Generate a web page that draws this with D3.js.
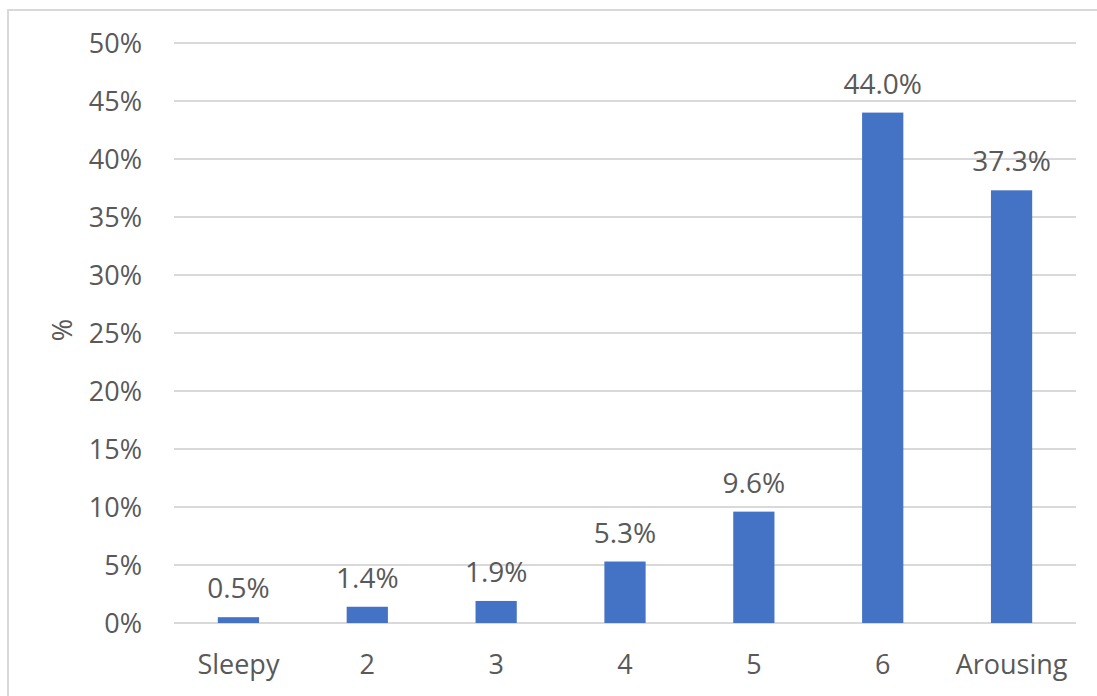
<!DOCTYPE html>
<html>
<head>
<meta charset="utf-8">
<script src="https://cdn.jsdelivr.net/npm/d3@7"></script>
<style>
  html, body { margin: 0; padding: 0; background: #fff; }
  svg { display: block; }
  text { font-family: "Open Sans", "Noto Sans", sans-serif; fill: #595959; }
</style>
</head>
<body>
<svg id="chart" width="1097" height="696"></svg>
<script>
// Share of responses on the sleepy–arousing scale
const categories = ["Sleepy", "2", "3", "4", "5", "6", "Arousing"];
const values = [0.5, 1.4, 1.9, 5.3, 9.6, 44.0, 37.3];
const yTicks = [0, 5, 10, 15, 20, 25, 30, 35, 40, 45, 50];

const svg = d3.select("#chart");
const W = 1097, H = 696;
const plot = { left: 174, right: 1076, top: 43, bottom: 623 };

// Chart area frame
svg.append("rect")
  .attr("x", 8).attr("y", 10)
  .attr("width", W).attr("height", H)
  .attr("fill", "none")
  .attr("stroke", "#d9d9d9")
  .attr("stroke-width", 2);

const x = d3.scaleBand()
  .domain(categories)
  .range([plot.left, plot.right])
  .paddingInner(0.68)
  .paddingOuter(0.34);

const y = d3.scaleLinear()
  .domain([0, 50])
  .range([plot.bottom, plot.top]);

// Horizontal gridlines
svg.append("g")
  .selectAll("line")
  .data(yTicks)
  .join("line")
  .attr("x1", plot.left).attr("x2", plot.right)
  .attr("y1", d => y(d)).attr("y2", d => y(d))
  .attr("stroke", "#d9d9d9")
  .attr("stroke-width", 2);

// Y axis tick labels
const yAxis = d3.axisLeft(y)
  .tickValues(yTicks)
  .tickFormat(d => d + "%")
  .tickSize(0)
  .tickPadding(0);
svg.append("g")
  .attr("transform", `translate(${plot.left - 32},0)`)
  .call(yAxis)
  .call(g => g.select(".domain").remove())
  .call(g => g.selectAll("text")
    .attr("font-size", 27)
    .attr("font-family", null)
    .attr("fill", "#595959")
    .attr("dy", "0.36em"));

// Bars
svg.append("g")
  .selectAll("rect")
  .data(values)
  .join("rect")
  .attr("x", (d, i) => x(categories[i]))
  .attr("width", x.bandwidth())
  .attr("y", d => y(d))
  .attr("height", d => y(0) - y(d))
  .attr("fill", "#4472c4");

// Value labels above bars
svg.append("g")
  .selectAll("text")
  .data(values)
  .join("text")
  .attr("x", (d, i) => x(categories[i]) + x.bandwidth() / 2)
  .attr("y", d => y(d) - 19)
  .attr("text-anchor", "middle")
  .attr("font-size", 28)
  .text(d => d.toFixed(1) + "%");

// Category axis labels
const xAxis = d3.axisBottom(x).tickSize(0).tickPadding(0);
svg.append("g")
  .attr("transform", `translate(0,${plot.bottom})`)
  .call(xAxis)
  .call(g => g.select(".domain").remove())
  .call(g => g.selectAll("text")
    .attr("font-size", 27)
    .attr("font-family", null)
    .attr("fill", "#595959")
    .attr("y", 51)
    .attr("dy", 0));

// Y axis title
svg.append("text")
  .attr("transform", `translate(72,330) rotate(-90)`)
  .attr("text-anchor", "middle")
  .attr("font-size", 27)
  .text("%");
</script>
</body>
</html>
